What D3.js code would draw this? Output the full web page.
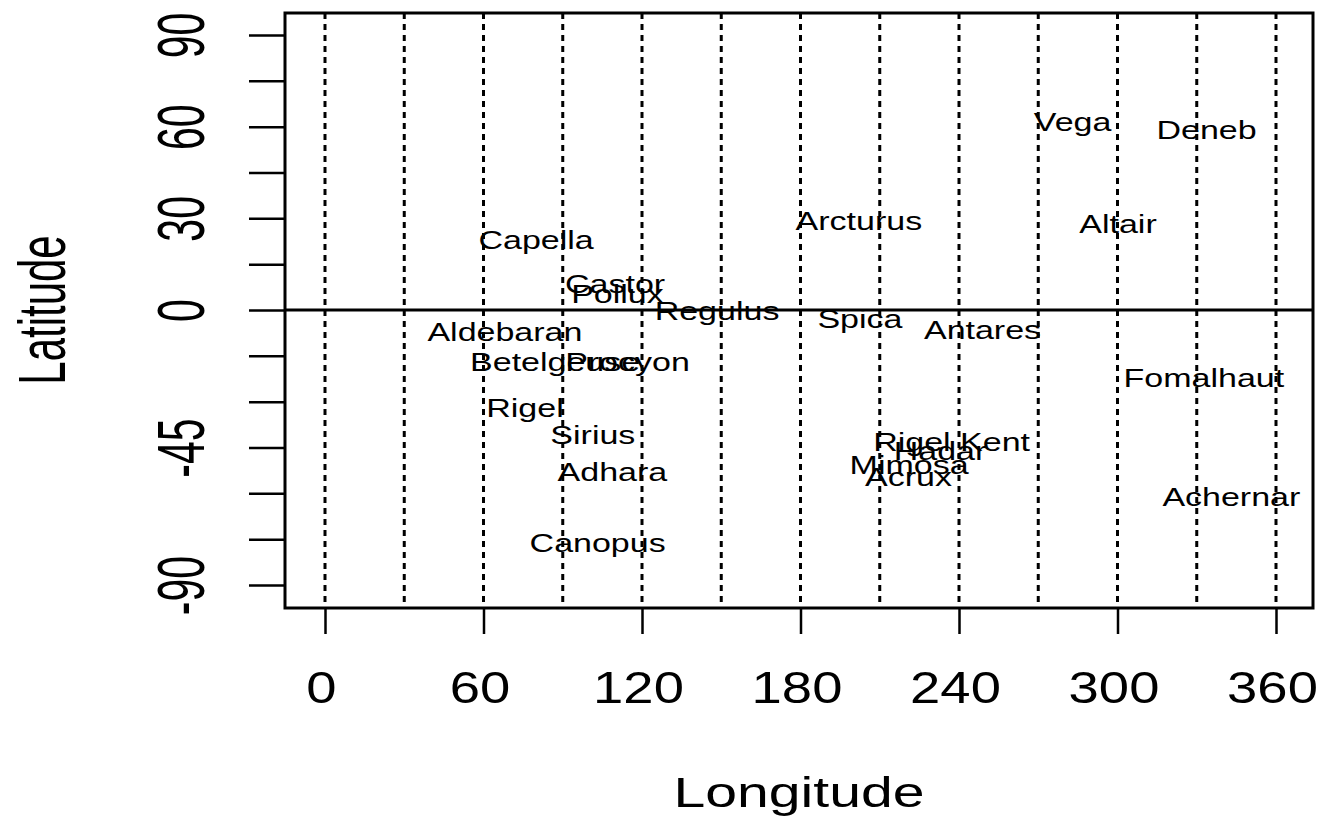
<!DOCTYPE html>
<html><head><meta charset="utf-8">
<script src="https://cdn.jsdelivr.net/npm/d3@7/dist/d3.min.js"></script>
<style>body{margin:0;background:#fff} text{font-family:"Liberation Sans",Arial,sans-serif;fill:#000}</style>
</head><body>
<svg id="c" width="1324" height="817"></svg>
<script>
const starNames = ["Vega","Deneb","Altair","Arcturus","Capella","Castor","Pollux","Regulus","Spica","Antares","Aldebaran","Betelgeuse","Procyon","Fomalhaut","Rigel","Sirius","Rigel Kent","Hadar","Mimosa","Acrux","Adhara","Achernar","Canopus"];
const starLon = [283.0,333.7,300.2,202.1,79.9,109.8,110.7,148.4,202.5,248.9,68.1,87.1,114.5,332.7,75.7,101.4,237.2,232.8,221.1,220.9,108.8,343.1,103.2];
const starLat = [61.5,58.9,28.1,29.1,22.9,8.5,5.2,-0.3,-3.0,-6.5,-7.2,-17.0,-17.0,-22.3,-32.1,-40.9,-43.2,-46.1,-50.7,-54.7,-53.0,-61.2,-76.3];
const xTicks = [0,60,120,180,240,300,360];
const xGrid = [0,30,60,90,120,150,180,210,240,270,300,330,360];
const yTicks = [-90,-75,-60,-45,-30,-15,0,15,30,45,60,75,90];
const yLabelValues = [90,60,30,0,-45,-90];
const xTitle = "Longitude", yTitle = "Latitude";

const svg = d3.select("#c");
const x = d3.scaleLinear().domain([0,360]).range([325,1276]);
const y = d3.scaleLinear().domain([-90,90]).range([585,35]);
const L = 285, R = 1313, T = 13, B = 608;

// grid
svg.append("g").selectAll("line").data(xGrid).join("line")
  .attr("x1", d => x(d)).attr("x2", d => x(d)).attr("y1", T).attr("y2", B)
  .attr("stroke", "#000").attr("stroke-width", 3).attr("stroke-dasharray", "6,5");
svg.append("line").attr("x1", L).attr("x2", R).attr("y1", y(0)).attr("y2", y(0))
  .attr("stroke", "#000").attr("stroke-width", 3);

// box
svg.append("rect").attr("x", L).attr("y", T).attr("width", R - L).attr("height", B - T)
  .attr("fill", "none").attr("stroke", "#000").attr("stroke-width", 3);

// x axis
const gx = svg.append("g").attr("transform", `translate(0,${B})`)
  .call(d3.axisBottom(x).tickValues(xTicks).tickSize(26).tickFormat(d => String(d)));
gx.select(".domain").remove();
gx.selectAll(".tick line").attr("stroke", "#000").attr("stroke-width", 2.5);
gx.selectAll(".tick text").attr("x", null).attr("y", null).attr("dy", null)
  .attr("font-size", 45).attr("text-anchor", "middle")
  .attr("transform", "translate(-4,95) scale(1.21,1)");

// y axis
const gy = svg.append("g").attr("transform", `translate(${L},0)`)
  .call(d3.axisLeft(y).tickValues(yTicks).tickSize(36).tickFormat(d => yLabelValues.includes(d) ? String(d) : ""));
gy.select(".domain").remove();
gy.selectAll(".tick line").attr("stroke", "#000").attr("stroke-width", 2.5);
gy.selectAll(".tick text").attr("x", null).attr("y", null).attr("dy", null)
  .attr("font-size", 41).attr("text-anchor", "middle")
  .attr("transform", "translate(-81,0) rotate(-90) scale(1,1.63)");

// titles
svg.append("text").text(xTitle).attr("font-size", 43).attr("text-anchor", "middle")
  .attr("transform", "translate(799,807) scale(1.33,1)");
svg.append("text").text(yTitle).attr("font-size", 42).attr("text-anchor", "middle")
  .attr("transform", "translate(65,310) rotate(-90) scale(1,1.6)");

// star labels
svg.append("g").selectAll("text").data(starNames).join("text")
  .text(d => d).attr("font-size", 25).attr("text-anchor", "middle").attr("dy", 9)
  .attr("transform", (d, i) => `translate(${x(starLon[i])},${y(starLat[i])}) scale(1.36,1)`);
</script>
</body></html>
